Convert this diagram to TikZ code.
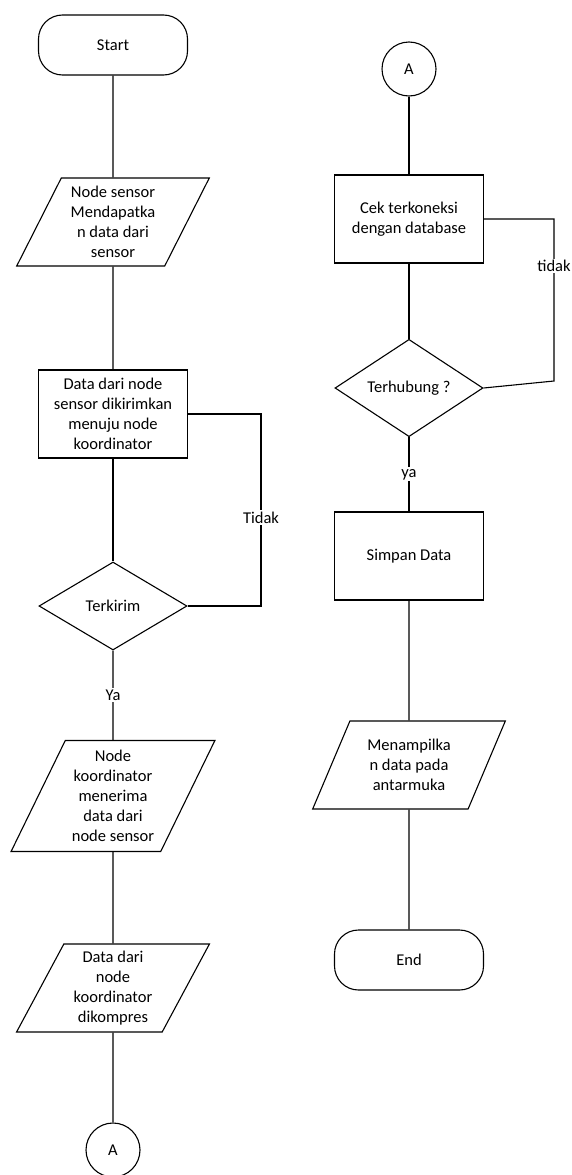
\documentclass[tikz,border=0pt]{standalone}
\usepackage{fontspec}
\setmainfont{Carlito}
\usetikzlibrary{shapes}
\usetikzlibrary{shapes.geometric}
\usetikzlibrary{positioning}
\tikzstyle{base} = [draw=black, line width=1.1pt, align=center, inner sep=0pt]
\tikzstyle{terminal} = [base, rectangle, rounded corners=24pt,
        minimum width=149pt, minimum height=60pt]
\tikzstyle{process} = [base, rectangle, minimum width=149pt, minimum height=88pt]
\tikzstyle{io} = [base, trapezium, trapezium left angle=63, trapezium right angle=117,
        trapezium stretches=true, minimum width=193pt, minimum height=88pt]
\tikzstyle{decision} = [base, diamond, minimum width=148pt, minimum height=88pt]
\tikzstyle{connector} = [base, circle, minimum size=54pt]
\tikzstyle{flow} = [draw=black, line width=1.1pt]
\tikzstyle{branch} = [fill=white, inner sep=1.5pt]

\begin{document}
\begin{tikzpicture}[
            x=1pt, y=-1pt,
            every node/.style={font={\fontsize{16.5}{20}\selectfont}},
            ]
            \useasboundingbox (0,0) rectangle (571,1175);
            % left column
            \node [terminal] (start) at (113,45) {Start};
            \node [io] (get) at (113,222) {Node sensor\\Mendapatka\\n data dari\\sensor};
            \node [process] (send) at (113,414) {Data dari node\\sensor dikirimkan\\menuju node\\koordinator};
            \node [decision] (sent) at (113,606) {Terkirim};
            \node [io, minimum width=204pt, minimum height=111pt] (recv) at (113,796)
                {Node\\koordinator\\menerima\\data dari\\node sensor};
            \node [io] (pack) at (113,988) {Data dari\\node\\koordinator\\dikompres};
            \node [connector] (outA) at (113,1150) {A};
            % right column
            \node [connector] (inA) at (409,69) {A};
            \node [process] (check) at (409,219) {Cek terkoneksi\\dengan database};
            \node [decision] (linked) at (409,388) {Terhubung ?};
            \node [process] (save) at (409,556) {Simpan Data};
            \node [io] (show) at (409,765) {Menampilka\\n data pada\\antarmuka};
            \node [terminal] (end) at (409,960) {End};
            % loop corners
            \coordinate (retryTop) at (261,414);
            \coordinate (retryBot) at (261,606);
            \coordinate (againTop) at (554,219);
            \coordinate (againBot) at (554,381);

            \draw [flow] (start.south) -- (get.north);
            \draw [flow] (get.south) -- (send.north);
            \draw [flow] (send.south) -- (sent.north);
            \draw [flow] (sent.south) -- node [branch] {Ya} (recv.north);
            \draw [flow] (recv.south) -- (pack.north);
            \draw [flow] (pack.south) -- (outA.north);
            \draw [flow] (sent.east) -- (retryBot)
                -- node [branch, pos=0.46] {Tidak} (retryTop) -- (send.east);

            \draw [flow] (inA.south) -- (check.north);
            \draw [flow] (check.south) -- (linked.north);
            \draw [flow] (linked.south) -- node [branch] {ya} (save.north);
            \draw [flow] (save.south) -- (show.north);
            \draw [flow] (show.south) -- (end.north);
            \draw [flow] (linked.east) -- (againBot)
                -- node [branch, pos=0.71] {tidak} (againTop) -- (check.east);
        \end{tikzpicture}
\end{document}
